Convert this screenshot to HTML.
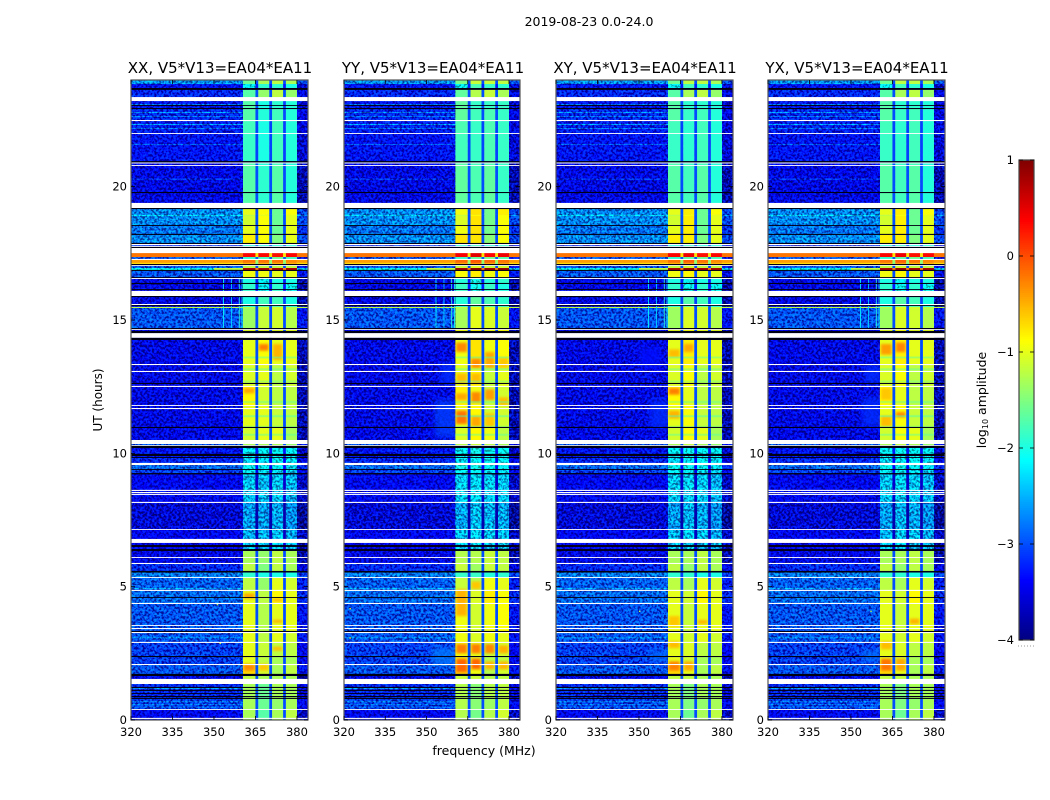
<!DOCTYPE html>
<html lang="en">
<head>
<meta charset="utf-8">
<title>2019-08-23 0.0-24.0</title>
<style>
html,body{margin:0;padding:0;background:#fff;width:1050px;height:800px;overflow:hidden}
svg{display:block}
text{font-family:"DejaVu Sans","Liberation Sans",sans-serif;fill:#000}
</style>
</head>
<body>
<svg id="chart" xmlns="http://www.w3.org/2000/svg" width="1050" height="800" viewBox="0 0 1050 800">
  <defs>
    <filter id="speckle" filterUnits="objectBoundingBox" x="0" y="0" width="1" height="1" color-interpolation-filters="sRGB">
      <feTurbulence type="fractalNoise" baseFrequency="0.42" numOctaves="2" seed="7" result="n"/>
      <feColorMatrix in="n" type="matrix" values="0 0 0 0 0.5  3 0 0 0 -1  3 0 0 0 -1  0 0 0 0 1" result="g"/>
      <feComposite in="SourceGraphic" in2="g" operator="arithmetic" k1="0.5" k2="0.75" k3="0.3" k4="-0.15"/>
    </filter>
    <filter id="fine" x="-5%" y="-100%" width="110%" height="300%"><feGaussianBlur stdDeviation="0.5"/></filter>
    <filter id="soft" x="-30%" y="-30%" width="160%" height="160%"><feGaussianBlur stdDeviation="1.3"/></filter>
    <filter id="softer" x="-30%" y="-30%" width="160%" height="160%"><feGaussianBlur stdDeviation="3"/></filter>
  </defs>
  <text x="589" y="26" font-size="12.5" text-anchor="middle">2019-08-23 0.0-24.0</text>
  <text x="220" y="73" font-size="15" text-anchor="middle">XX, V5*V13=EA04*EA11</text>
  <text x="433" y="73" font-size="15" text-anchor="middle">YY, V5*V13=EA04*EA11</text>
  <text x="645" y="73" font-size="15" text-anchor="middle">XY, V5*V13=EA04*EA11</text>
  <text x="857" y="73" font-size="15" text-anchor="middle">YX, V5*V13=EA04*EA11</text>
  <text x="0" y="0" font-size="12" text-anchor="middle" transform="translate(102 400) rotate(-90)">UT (hours)</text>
  <text x="484" y="755" font-size="12.5" text-anchor="middle">frequency (MHz)</text>
  <text x="0" y="0" font-size="12.5" text-anchor="middle" transform="translate(986 400) rotate(-90)">log<tspan font-size="8" dy="2">10</tspan><tspan dy="-2"> amplitude</tspan></text>
  <g id="panels"></g>
  <g id="colorbar"></g>
</svg>
<script>
// Value arrays: UT hours, MHz and log10 amplitude.
const panelNames = ['xx', 'yy', 'xy', 'yx'];
const frequencyTicks = [320, 335, 350, 365, 380];
const hourTicks = [0, 5, 10, 15, 20];
const colorbarTicks = [1, 0, -1, -2, -3, -4];
const bandEdges = [[360.5, 365], [366, 370], [371, 375], [376, 380]];
const notchEdges = [[365, 366], [370, 371], [375, 376]];
const rowStartHours = [24, 23.85, 23.63, 23.21, 22.91, 22.46, 21.98, 20.87, 20.78, 19.2, 18.94, 18.9, 18.53, 18.19, 17.85, 17.51, 17.36, 17.25, 17.14, 17.06, 16.95, 16.84, 16.58, 16.35, 16.09, 15.86, 15.49, 15.45, 14.7, 14.25, 13.31, 12.49, 11.78, 10.95, 10.35, 10.2, 9.83, 9.56, 9.38, 9.21, 8.14, 7.13, 6.64, 6.34, 5.85, 5.53, 5.33, 4.84, 4.35, 3.26, 2.89, 2.36, 2.06, 1.65, 1.35, 0.79, 0.38];
const backgroundLevels = [-2.7, -3.3, -3.2, -3.3, -3.2, -3.25, -3.3, -3.4, -3.5, -2.75, -2.4, -2.75, -2.85, -2.75, -3.2, -0.2, -3, -0.4, -0.7, -3, -2.2, -3, -3.5, -3.5, -3.4, -3.5, -1.2, -3, -3.4, -3.5, -3.5, -3.5, -3.5, -3.5, -3, -3.3, -3.2, -2.9, -3.1, -3.4, -3.6, -3.4, -3.4, -3.5, -3.2, -2.8, -2.95, -2.9, -3, -3, -3.1, -3.1, -3, -3.5, -3.2, -3.1, -3.4];
const band1Levels = [-1.6, -2.2, -1.7, -1.7, -1.7, -1.8, -1.85, -1.75, -1.7, -1, -1.2, -1.1, -1, -0.8, -2, 0.35, -1.9, -0.2, -0.5, -1.2, 0.8, -0.95, -2, -1.9, -2, -2, -1.2, -1.35, -1, -1, -1.05, -0.85, -1, -1.1, -1.3, -2.2, -2.35, -2.1, -2.2, -2.45, -2.65, -2.55, -2.5, -1.3, -1.2, -1.9, -1.2, -1, -1, -1, -1, -1, -0.7, -1.2, -1.3, -1.3, -1.3];
const band2Levels = [-1.3, -1.9, -1.4, -2, -1.95, -2, -2, -1.95, -1.9, -0.9, -1, -0.9, -0.9, -0.9, -2, 0.35, -1.8, -0.2, -0.5, -1.2, 0.8, -0.95, -2.2, -2.2, -2, -1.8, -1.1, -1.15, -1, -0.9, -1, -1.1, -1, -1, -1.3, -2.2, -2.35, -2.2, -2.3, -2.5, -2.65, -2.55, -2.5, -1.4, -1.5, -2, -1.4, -1.2, -1.25, -1.2, -1.15, -1.2, -1.1, -1.3, -1.6, -1.6, -1.7];
const band3Levels = [-1.2, -1.9, -1.2, -1.9, -1.8, -1.8, -1.8, -1.8, -1.7, -1.6, -1.6, -1.6, -1.6, -1.5, -2, 0.3, -1.6, -0.2, -0.5, -1.2, 0.8, -1, -2, -1.9, -2, -1.8, -1.1, -1.1, -1, -1, -1.2, -1.2, -1.15, -1, -1.3, -2.15, -2.2, -2.2, -2.3, -2.45, -2.6, -2.5, -2.5, -1.2, -1.2, -2, -1, -0.85, -1, -1, -1.2, -1.3, -1.3, -1.3, -1.3, -1.4, -1.3];
const band4Levels = [-1.3, -2, -1.4, -1.95, -1.95, -1.95, -1.95, -1.95, -1.95, -0.9, -1, -1, -1, -1, -2, 0.35, -1.8, -0.3, -0.5, -1.2, 0.8, -1, -2, -2.1, -2, -2, -1.2, -1.25, -1, -1, -1.1, -1.2, -1.2, -1.3, -1.4, -2.2, -2.3, -2.3, -2.4, -2.55, -2.7, -2.6, -2.5, -1.3, -1.3, -2, -1.1, -1, -1, -1.1, -1.2, -1.3, -1.2, -1.3, -1.3, -1.3, -1.2];
// Extra level added to each band (rows) for each panel (columns of the row).
const panelBandOffsets = [[0, 0, 0, 0], [0.05, 0.15, 0.05, 0.1], [0, 0.1, 0, 0], [0, 0.1, 0, 0]];
const rightColumnOffset = -0.3;
const whiteGapHours = [[23.36, 23.21], [22.5, 22.46], [22.01, 21.98], [20.91, 20.87], [20.81, 20.78], [19.39, 19.2], [17.85, 17.81], [17.78, 17.74], [17.7, 17.51], [17.29, 17.25], [17.06, 17.03], [16.58, 16.54], [16.09, 15.9], [15.6, 15.56], [14.66, 14.63], [14.51, 14.33], [13.35, 13.31], [13.09, 13.05], [12.53, 12.49], [11.81, 11.78], [11.7, 11.66], [10.5, 10.35], [10.31, 10.28], [9.64, 9.56], [8.63, 8.59], [8.55, 8.51], [8.48, 8.44], [8.18, 8.14], [7.16, 7.13], [6.79, 6.64], [6.11, 6.08], [5.89, 5.85], [5.36, 5.33], [4.88, 4.84], [4.39, 4.35], [3.56, 3.53], [3.45, 3.41], [3.3, 3.26], [2.93, 2.89], [2.1, 2.06], [1.54, 1.35], [0.41, 0.38], [0.08, 0.04]];
const blackGapHours = [[23.7, 23.63], [23.06, 23.03], [22.95, 22.91], [20.96, 20.91], [19.8, 19.76], [19.2, 19.16], [18.56, 18.53], [18.23, 18.19], [17.89, 17.85], [17.74, 17.7], [17.1, 17.06], [16.88, 16.84], [16.61, 16.58], [16.39, 16.35], [16.16, 16.13], [15.9, 15.86], [15.56, 15.53], [14.7, 14.66], [14.59, 14.51], [14.33, 14.25], [12.64, 12.6], [10.99, 10.95], [10.28, 10.2], [9.98, 9.9], [9.86, 9.83], [9.41, 9.38], [9.26, 9.21], [6.56, 6.49], [6.41, 6.34], [5.59, 5.53], [4.61, 4.58], [3.34, 3.3], [2.4, 2.36], [1.73, 1.65], [1.24, 1.2], [1.13, 1.09], [1.01, 0.98], [0.9, 0.86], [0.83, 0.79]];
// Hot and cold patches inside the bands: panel index, band index, hours, level.
const patchPanels = [0, 0, 0, 0, 0, 0, 0, 0, 0, 1, 1, 1, 1, 1, 1, 1, 1, 1, 1, 1, 1, 1, 1, 1, 1, 1, 1, 1, 1, 1, 1, 1, 2, 2, 2, 2, 2, 2, 2, 2, 2, 3, 3, 3, 3, 3, 3, 3, 3, 3];
const patchBands = [1, 0, 2, 0, 1, 0, 2, 2, 2, 0, 0, 0, 0, 1, 1, 1, 1, 2, 2, 2, 3, 3, 0, 0, 1, 1, 2, 2, 3, 3, 0, 1, 0, 0, 0, 1, 0, 0, 1, 0, 2, 0, 1, 0, 0, 1, 0, 1, 0, 2];
const patchStarts = [14.1, 12.45, 14.1, 2.1, 2.1, 4.75, 4.55, 3.75, 2.75, 14.15, 13, 12.25, 11.6, 13.55, 13, 12.3, 11.4, 13.8, 12.4, 11.5, 13.6, 12.1, 4.9, 2.85, 2.85, 2.3, 2.85, 2.2, 2.8, 2.2, 2.3, 5.2, 13.9, 12.45, 11.6, 14.1, 2.95, 2.2, 2.2, 3.9, 3.75, 14.1, 14.15, 12.45, 11.4, 11.55, 2.3, 2.3, 2.95, 3.8];
const patchEnds = [13.85, 12.25, 13.5, 1.85, 1.85, 4.55, 4.45, 3.65, 2.6, 13.8, 12.6, 12, 11.1, 13.2, 12.6, 11.9, 11, 13.2, 12, 11, 13.2, 11.8, 3.9, 2.5, 2.5, 1.9, 2.5, 1.9, 2.5, 1.9, 1.8, 4.9, 13.6, 12.2, 11.3, 13.8, 2.7, 1.85, 1.85, 3.5, 3.6, 13.7, 13.8, 12, 11, 11.35, 1.85, 1.85, 2.65, 3.6];
const patchLevels = [-0.25, -0.45, -0.5, -0.3, -0.6, -0.45, -0.5, -0.45, -0.55, -0.3, -0.55, -0.45, -0.2, -0.3, -0.55, -0.3, -0.45, -0.45, -0.4, -0.6, -0.6, -0.55, -0.5, -0.25, -0.25, -0.12, -0.3, -0.5, -0.5, -0.5, -0.12, -0.6, -0.55, -0.25, -0.5, -0.45, -0.55, -0.25, -0.45, -0.6, -0.5, -0.4, -0.28, -0.6, -0.55, -0.3, -0.2, -0.45, -0.55, -0.5];
// Cooler horizontal veins crossing all bands between 10.5 h and 14.3 h.
const veinHours = [13.62, 13.18, 12.72, 11.95, 11.42, 11.02, 10.72];
const veinLevels = [-1.7, -1.7, -1.6, -1.7, -1.8, -1.6, -1.7];
// Lighter haze on the background below the band: panel, MHz, hours, level.
const hazePanels = [1, 1, 2, 2, 3, 3, 1, 2, 3];
const hazeFreqStart = [355, 353, 354, 350, 355, 354, 352, 354, 354];
const hazeFreqEnd = [361, 361, 361, 358, 361, 361, 361, 361, 361];
const hazeStarts = [13.4, 12, 12, 14, 13.3, 12.1, 2.7, 2.6, 2.6];
const hazeEnds = [12.6, 10.6, 10.9, 13.2, 12.6, 11, 2.05, 2.2, 2.2];
const hazeLevels = [-3.15, -3.05, -3.15, -3.3, -3.15, -3.15, -2.75, -2.8, -2.8];
// Faint narrowband lines between 14.7 h and 16.6 h.
const streakFreqs = [353.3, 356.2, 359, 360];
const streakLevels = [-2.1, -2.3, -1.9, -2];
const streakSpanHours = [16.6, 14.7];
// Thin brighter rows in the background.
const brightRowHours = [23.1, 22.8, 22.65, 22.35, 22.2, 21.6, 20.3, 1.2, 0.7, 0.6, 0.5, 4.95, 3.1];
const brightRowLevels = [-2.8, -2.7, -2.8, -2.6, -2.8, -2.9, -3, -2.7, -2.7, -2.8, -2.8, -2.6, -2.6];
// A rising edge of the cooled row near 17 h: MHz range and level.
const risingEdgeHours = [16.95, 16.88];
const risingEdgeFreqs = [350, 360.5];
const risingEdgeLevel = -1.2;
// Isolated bright samples: panel, MHz, hour, level.
const speckPanels = [0, 0, 0, 1, 1, 1, 2, 2, 3, 3];
const speckFreqs = [351, 335, 352, 331, 322, 322, 350, 335, 357, 354];
const speckHours = [4.35, 3.3, 2.9, 17.7, 3.1, 4.2, 4.1, 3.25, 4.1, 3.3];
const speckLevels = [-1.3, -0.9, -1, -0.4, -1, -1, -1.2, -0.5, -1.2, -1];

const panelLeft = [131, 344, 556, 768];
const panelWidth = [177, 176, 177, 177];
const plotTop = 80;
const plotBottom = 720;
const freqMin = 320;
const freqMax = 384;
const hourMax = 24;
const levelMin = -4;
const levelMax = 1;
const SVG_NS = 'http://www.w3.org/2000/svg';

function xScale(p, mhz) { return panelLeft[p] + (mhz - freqMin) * panelWidth[p] / (freqMax - freqMin); }
function yScale(hour) { return plotBottom - hour * (plotBottom - plotTop) / hourMax; }
function jetChannel(x) { return Math.round(255 * Math.max(0, Math.min(1, x))); }
function levelColor(level) {
  const t = Math.max(0, Math.min(1, (level - levelMin) / (levelMax - levelMin)));
  const r = Math.min(4 * t - 1.5, -4 * t + 4.5);
  const g = Math.min(4 * t - 0.5, -4 * t + 3.5);
  const b = Math.min(4 * t + 0.5, -4 * t + 2.5);
  return 'rgb(' + jetChannel(r) + ',' + jetChannel(g) + ',' + jetChannel(b) + ')';
}
function makeGroup(parent, name) {
  const g = document.createElementNS(SVG_NS, 'g');
  
  
  parent.appendChild(g);
  return g;
}
function cell(parent, x0, x1, y0, y1, fill) {
  const el = document.createElementNS(SVG_NS, 'rect');
  
  
  el.setAttribute('x', x0.toFixed(2));
  el.setAttribute('y', y0.toFixed(2));
  el.setAttribute('width', Math.max(0.6, x1 - x0).toFixed(2));
  el.setAttribute('height', Math.max(0.9, y1 - y0).toFixed(2));
  el.setAttribute('fill', fill);
  parent.appendChild(el);
  return el;
}
function line(parent, x1, y1, x2, y2) {
  const el = document.createElementNS(SVG_NS, 'line');
  
  
  el.setAttribute('x1', x1);
  el.setAttribute('y1', y1);
  el.setAttribute('x2', x2);
  el.setAttribute('y2', y2);
  el.setAttribute('stroke', '#000');
  el.setAttribute('stroke-width', '0.8');
  parent.appendChild(el);
}
function label(parent, x, y, anchor, content) {
  const el = document.createElementNS(SVG_NS, 'text');
  
  
  el.setAttribute('x', x);
  el.setAttribute('y', y);
  el.setAttribute('font-size', '11.5');
  el.setAttribute('text-anchor', anchor);
  el.textContent = content;
  parent.appendChild(el);
}
function rowBottom(i) { return i + 1 < rowStartHours.length ? rowStartHours[i + 1] : 0; }

const bandLevelSeries = [band1Levels, band2Levels, band3Levels, band4Levels];
const panelsRoot = document.getElementById('panels');
const defs = document.querySelector('defs');

panelNames.forEach(function (name, p) {
  const left = panelLeft[p], right = left + panelWidth[p];
  const clip = document.createElementNS(SVG_NS, 'clipPath');
  clip.setAttribute('id', 'clip-' + name);
  const clipRect = document.createElementNS(SVG_NS, 'rect');
  clipRect.setAttribute('x', left);
  clipRect.setAttribute('y', plotTop);
  clipRect.setAttribute('width', panelWidth[p]);
  clipRect.setAttribute('height', plotBottom - plotTop);
  clip.appendChild(clipRect);
  defs.appendChild(clip);

  const panel = makeGroup(panelsRoot, 'panel-' + name);
  const body = makeGroup(panel, 'heatmap-' + name);
  body.setAttribute('clip-path', 'url(#clip-' + name + ')');

  // Background columns: quiet rows are speckled, hot rows stay smooth
  const bg = makeGroup(body, 'background-cells');
  bg.setAttribute('filter', 'url(#speckle)');
  const bgHot = makeGroup(body, 'background-hot-cells');
  rowStartHours.forEach(function (start, i) {
    const y0 = yScale(start), y1 = yScale(rowBottom(i));
    const level = backgroundLevels[i];
    const target = level > -1.5 ? bgHot : bg;
    const rightLevel = level > -1.5 ? level : level + rightColumnOffset;
    cell(target, xScale(p, freqMin), xScale(p, bandEdges[0][0]), y0, y1, levelColor(level));
    cell(target, xScale(p, bandEdges[3][1]), xScale(p, freqMax), y0, y1, levelColor(rightLevel));
  });
  brightRowHours.forEach(function (hour, i) {
    cell(bg, xScale(p, freqMin), xScale(p, bandEdges[0][0]), yScale(hour), yScale(hour - 0.03), levelColor(brightRowLevels[i]));
  });

  // Haze near the band edge
  const haze = makeGroup(body, 'background-haze');
  haze.setAttribute('filter', 'url(#softer)');
  haze.setAttribute('opacity', '0.75');
  hazePanels.forEach(function (hp, i) {
    if (hp !== p) return;
    cell(haze, xScale(p, hazeFreqStart[i]), xScale(p, hazeFreqEnd[i]), yScale(hazeStarts[i]), yScale(hazeEnds[i]), levelColor(hazeLevels[i]));
  });

  // Narrowband lines and the rising edge of the cooled row
  const streaks = makeGroup(body, 'narrowband-lines');
  streakFreqs.forEach(function (mhz, i) {
    cell(streaks, xScale(p, mhz), xScale(p, mhz + 0.3), yScale(streakSpanHours[0]), yScale(streakSpanHours[1]), levelColor(streakLevels[i]));
  });
  cell(streaks, xScale(p, risingEdgeFreqs[0]), xScale(p, risingEdgeFreqs[1]), yScale(risingEdgeHours[0]), yScale(risingEdgeHours[1]), levelColor(risingEdgeLevel));

  // Bands: faint rows are speckled, bright rows are smooth
  const bandsFaint = makeGroup(body, 'band-cells-faint');
  bandsFaint.setAttribute('filter', 'url(#speckle)');
  const bands = makeGroup(body, 'band-cells');
  rowStartHours.forEach(function (start, i) {
    const y0 = yScale(start), y1 = yScale(rowBottom(i));
    bandEdges.forEach(function (edge, b) {
      const level = bandLevelSeries[b][i] + panelBandOffsets[p][b];
      cell(level < -2.05 ? bandsFaint : bands, xScale(p, edge[0]), xScale(p, edge[1]), y0, y1, levelColor(level));
    });
  });

  // Hot patches
  const patches = makeGroup(body, 'band-patches');
  patches.setAttribute('filter', 'url(#soft)');
  patchPanels.forEach(function (pp, i) {
    if (pp !== p) return;
    const edge = bandEdges[patchBands[i]];
    cell(patches, xScale(p, edge[0] + 0.3), xScale(p, edge[1] - 0.3), yScale(patchStarts[i]), yScale(patchEnds[i]), levelColor(patchLevels[i]));
  });

  // Cool veins crossing the bands
  const veins = makeGroup(body, 'band-veins');
  veins.setAttribute('filter', 'url(#fine)');
  veins.setAttribute('opacity', '0.7');
  veinHours.forEach(function (hour, i) {
    cell(veins, xScale(p, bandEdges[0][0]), xScale(p, bandEdges[3][1]), yScale(hour), yScale(hour - 0.05), levelColor(veinLevels[i]));
  });

  // Notches sit over everything in the band
  const notches = makeGroup(body, 'notch-cells');
  rowStartHours.forEach(function (start, i) {
    const y0 = yScale(start), y1 = yScale(rowBottom(i));
    const peak = Math.min(band1Levels[i], band2Levels[i], band3Levels[i], band4Levels[i]);
    const floor = peak > -0.6 ? peak - 1.05 : Math.min(-3, peak - 1.05);
    notchEdges.forEach(function (edge) {
      cell(notches, xScale(p, edge[0]), xScale(p, edge[1]), y0, y1, levelColor(floor));
    });
  });

  // Isolated samples
  const specks = makeGroup(body, 'bright-samples');
  speckPanels.forEach(function (sp, i) {
    if (sp !== p) return;
    cell(specks, xScale(p, speckFreqs[i]), xScale(p, speckFreqs[i] + 0.5), yScale(speckHours[i]), yScale(speckHours[i] - 0.05), levelColor(speckLevels[i]));
  });

  // Flagged and empty rows
  const gaps = makeGroup(body, 'flagged-rows');
  whiteGapHours.forEach(function (gap) {
    cell(gaps, left, right, yScale(gap[0]), yScale(gap[1]), '#ffffff');
  });
  blackGapHours.forEach(function (gap) {
    cell(gaps, left, right, yScale(gap[0]), yScale(gap[1]), '#000014');
  });

  // Frame, ticks and labels
  const axes = makeGroup(panel, 'axes-' + name);
  const frame = document.createElementNS(SVG_NS, 'rect');
  
  
  frame.setAttribute('x', left);
  frame.setAttribute('y', plotTop);
  frame.setAttribute('width', panelWidth[p]);
  frame.setAttribute('height', plotBottom - plotTop);
  frame.setAttribute('fill', 'none');
  frame.setAttribute('stroke', '#555');
  frame.setAttribute('stroke-width', '1.2');
  axes.appendChild(frame);
  frequencyTicks.forEach(function (mhz) {
    const x = xScale(p, mhz);
    line(axes, x, plotBottom, x, plotBottom - 4);
    line(axes, x, plotTop, x, plotTop + 4);
    label(axes, x, plotBottom + 16, 'middle', String(mhz));
  });
  hourTicks.forEach(function (hour) {
    const y = yScale(hour);
    line(axes, left, y, left + 4, y);
    line(axes, right, y, right - 4, y);
    label(axes, left - 4, y + 4, 'end', String(hour));
  });
});

// Colorbar
const cbLeft = 1019, cbRight = 1034, cbTop = 160, cbBottom = 640;
function cbScale(level) { return cbBottom - (level - levelMin) * (cbBottom - cbTop) / (levelMax - levelMin); }
const cbRoot = document.getElementById('colorbar');
const cbCells = makeGroup(cbRoot, 'colorbar-gradient');
for (let level = levelMin; level < levelMax; level += 0.02) {
  cell(cbCells, cbLeft, cbRight, cbScale(level + 0.02), cbScale(level) + 0.5, levelColor(level + 0.01));
}
const cbFrame = document.createElementNS(SVG_NS, 'rect');


cbFrame.setAttribute('x', cbLeft);
cbFrame.setAttribute('y', cbTop);
cbFrame.setAttribute('width', cbRight - cbLeft);
cbFrame.setAttribute('height', cbBottom - cbTop);
cbFrame.setAttribute('fill', 'none');
cbFrame.setAttribute('stroke', '#444');
cbFrame.setAttribute('stroke-width', '1.2');
cbRoot.appendChild(cbFrame);
colorbarTicks.forEach(function (level) {
  const y = cbScale(level);
  line(cbRoot, cbLeft, y, cbLeft + 4, y);
  line(cbRoot, cbRight, y, cbRight - 4, y);
  label(cbRoot, cbLeft - 5, y + 4, 'end', String(level).replace('-', '\u2212'));
});
const cbDots = document.createElementNS(SVG_NS, 'line');


cbDots.setAttribute('x1', cbLeft - 1);
cbDots.setAttribute('y1', 646);
cbDots.setAttribute('x2', cbRight);
cbDots.setAttribute('y2', 646);
cbDots.setAttribute('stroke', '#999');
cbDots.setAttribute('stroke-dasharray', '1 2');
cbRoot.appendChild(cbDots);
</script>
</body>
</html>
